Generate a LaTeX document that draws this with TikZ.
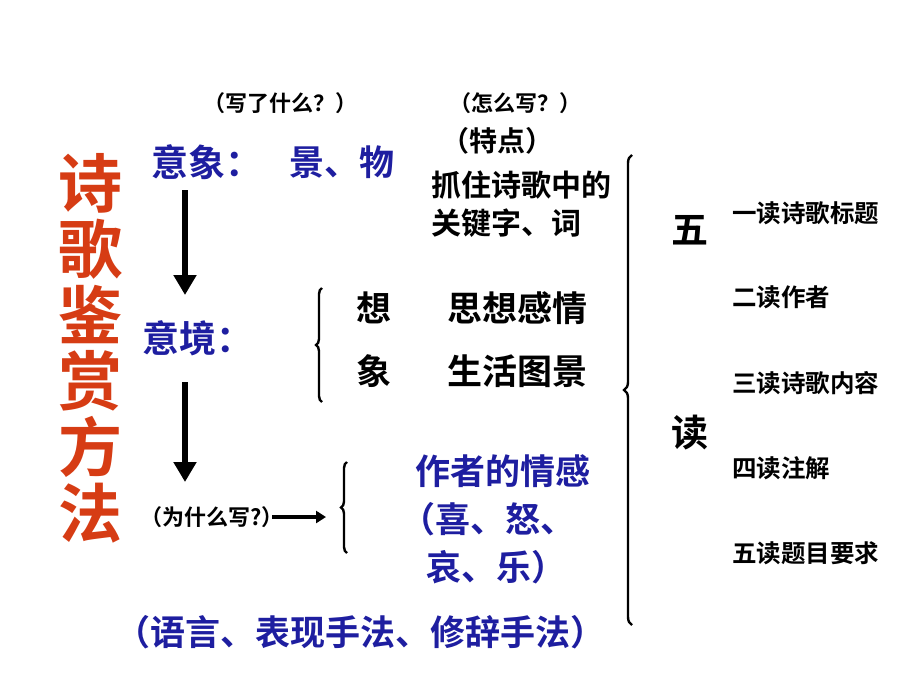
\documentclass[tikz,border=0pt]{standalone}
\usepackage{fontspec}
\setmainfont{Noto Sans CJK SC}[BoldFont={Noto Sans CJK SC Bold}]
\usetikzlibrary{decorations.pathreplacing,arrows.meta}
\definecolor{tred}{RGB}{214,60,20}
\definecolor{tblue}{RGB}{30,30,160}
\begin{document}
\begin{tikzpicture}[x=1pt,y=-1pt,
  t/.style={inner sep=0,font=\bfseries\fontsize{#1}{#1}\selectfont},
  bl/.style={text=tblue},
  darr/.style={line width=6pt,-{Triangle[length=20pt,width=22pt]}},
  br/.style={decorate,decoration={brace,amplitude=6pt,mirror},line width=2.4pt}]
\useasboundingbox (0,0) rectangle (920,690);
\node[t=64,text=tred,align=center] (title) at (90,348) {诗\\[2pt]歌\\[2pt]鉴\\[2pt]赏\\[2pt]方\\[2pt]法};
\node[t=22] (q1) at (280,103) {（写了什么？）};
\node[t=22] (q2) at (515,103) {（怎么写？）};
\node[t=28] (td) at (497,141) {（特点）};
\node[t=37,bl] (yx) at (207,162) {意象：};
\node[t=35,bl] (jw) at (342,162) {景、物};
\node[t=30,anchor=west] (z1) at (431,185) {抓住诗歌中的};
\node[t=30,anchor=west] (z2) at (431,223) {关键字、词};
\node[t=37,bl] (yj) at (198,338) {意境：};
\node[t=35] (x1) at (374,308) {想};
\node[t=35] (x2) at (517,308) {思想感情};
\node[t=35] (x3) at (374,371) {象};
\node[t=35] (x4) at (517,371) {生活图景};
\node[t=35,bl] (qg) at (503,471) {作者的情感};
\node[t=35,bl] (qg2) at (488,519) {（喜、怒、};
\node[t=35,bl] (qg3) at (496,567) {哀、乐）};
\node[t=22] (wh) at (212,517) {（为什么写?）};
\node[t=35,bl] (yy) at (360,632) {（语言、表现手法、修辞手法）};
\node[t=37] (w5) at (690,230) {五};
\node[t=37] (wd) at (690,433) {读};
\foreach \i/\s/\y in {1/一读诗歌标题/213,2/二读作者/297,3/三读诗歌内容/383,4/四读注解/468,5/五读题目要求/553}
  \node[t=24.5,anchor=west] (r\i) at (732,\y) {\s};
\coordinate (a1) at (185,190); \coordinate (a2) at (185,295);
\coordinate (a3) at (185,382); \coordinate (a4) at (185,482);
\draw[darr] (a1) -- (a2);
\draw[darr] (a3) -- (a4);
\coordinate (h1) at (272,517); \coordinate (h2) at (326,517);
\draw[line width=4pt,-{Triangle[length=10pt,width=12pt]}] (h1) -- (h2);
\coordinate (b1) at (322,288); \coordinate (b2) at (322,402);
\draw[br] (b1) -- (b2);
\coordinate (c1) at (347,462); \coordinate (c2) at (347,553);
\draw[br] (c1) -- (c2);
\coordinate (d1) at (632,155); \coordinate (d2) at (632,625);
\draw[br,decoration={amplitude=8pt}] (d1) -- (d2);
\end{tikzpicture}
\end{document}
